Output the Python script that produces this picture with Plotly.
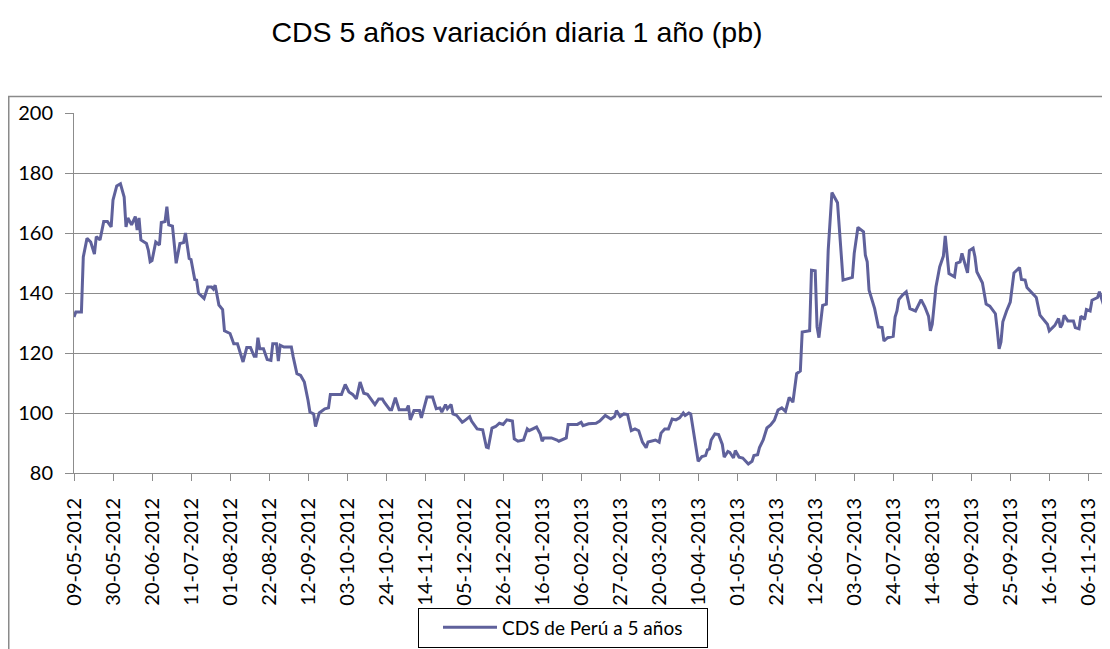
import plotly.graph_objects as go

title_text = "CDS 5 años variación diaria 1 año (pb)"
series_name = "CDS de Perú a 5 años"

dates = [
    "2012-05-09", "2012-05-10", "2012-05-13", "2012-05-14", "2012-05-16", "2012-05-18", "2012-05-20",
    "2012-05-21", "2012-05-23", "2012-05-25", "2012-05-27", "2012-05-29", "2012-05-30",
    "2012-06-01", "2012-06-03", "2012-06-05", "2012-06-06", "2012-06-07", "2012-06-09", "2012-06-11",
    "2012-06-12", "2012-06-13", "2012-06-14", "2012-06-17", "2012-06-18", "2012-06-19", "2012-06-20",
    "2012-06-22", "2012-06-24", "2012-06-25", "2012-06-27", "2012-06-28", "2012-06-29",
    "2012-07-01", "2012-07-03", "2012-07-05", "2012-07-07", "2012-07-08", "2012-07-10", "2012-07-11",
    "2012-07-13", "2012-07-14", "2012-07-15", "2012-07-18", "2012-07-20", "2012-07-22", "2012-07-23",
    "2012-07-24", "2012-07-26", "2012-07-28", "2012-07-29",
    "2012-08-01", "2012-08-03", "2012-08-05", "2012-08-08", "2012-08-10", "2012-08-12", "2012-08-14",
    "2012-08-15", "2012-08-16", "2012-08-17", "2012-08-19", "2012-08-21", "2012-08-23", "2012-08-24",
    "2012-08-26", "2012-08-27", "2012-08-28", "2012-08-30",
    "2012-09-03", "2012-09-04", "2012-09-06", "2012-09-08", "2012-09-10", "2012-09-12", "2012-09-13",
    "2012-09-15", "2012-09-16", "2012-09-18", "2012-09-21", "2012-09-23", "2012-09-24", "2012-09-30",
    "2012-10-02", "2012-10-04", "2012-10-06", "2012-10-08", "2012-10-10", "2012-10-12", "2012-10-14",
    "2012-10-18", "2012-10-20", "2012-10-22", "2012-10-23", "2012-10-26", "2012-10-27", "2012-10-29",
    "2012-10-31",
    "2012-11-04", "2012-11-05", "2012-11-06", "2012-11-08", "2012-11-11", "2012-11-12", "2012-11-15",
    "2012-11-18", "2012-11-20", "2012-11-22", "2012-11-23", "2012-11-25", "2012-11-26", "2012-11-28",
    "2012-11-29",
    "2012-12-01", "2012-12-04", "2012-12-05", "2012-12-08", "2012-12-09", "2012-12-12", "2012-12-15",
    "2012-12-17", "2012-12-18", "2012-12-20", "2012-12-22", "2012-12-24", "2012-12-26", "2012-12-28",
    "2012-12-31",
    "2013-01-01", "2013-01-03", "2013-01-06", "2013-01-08", "2013-01-09", "2013-01-11", "2013-01-13",
    "2013-01-15", "2013-01-16", "2013-01-17", "2013-01-21", "2013-01-24", "2013-01-25", "2013-01-29",
    "2013-01-30",
    "2013-02-04", "2013-02-06", "2013-02-07", "2013-02-10", "2013-02-14", "2013-02-16", "2013-02-19",
    "2013-02-22", "2013-02-24", "2013-02-25", "2013-02-27",
    "2013-03-01", "2013-03-03", "2013-03-05", "2013-03-07", "2013-03-09", "2013-03-11", "2013-03-13",
    "2013-03-14", "2013-03-16", "2013-03-18", "2013-03-20", "2013-03-21", "2013-03-23", "2013-03-25",
    "2013-03-27", "2013-03-29", "2013-03-31",
    "2013-04-02", "2013-04-03", "2013-04-05", "2013-04-06", "2013-04-10", "2013-04-12", "2013-04-14",
    "2013-04-15", "2013-04-16", "2013-04-17", "2013-04-19", "2013-04-21", "2013-04-23", "2013-04-24",
    "2013-04-26", "2013-04-27", "2013-04-29", "2013-04-30",
    "2013-05-02", "2013-05-04", "2013-05-07", "2013-05-09", "2013-05-10", "2013-05-12", "2013-05-13",
    "2013-05-15", "2013-05-17", "2013-05-19", "2013-05-21", "2013-05-23", "2013-05-25", "2013-05-27",
    "2013-05-29", "2013-05-31",
    "2013-06-01", "2013-06-02", "2013-06-04", "2013-06-05", "2013-06-09", "2013-06-10", "2013-06-12",
    "2013-06-13", "2013-06-14", "2013-06-16", "2013-06-18", "2013-06-19", "2013-06-21", "2013-06-24",
    "2013-06-27", "2013-06-30",
    "2013-07-02", "2013-07-03", "2013-07-05", "2013-07-08", "2013-07-09", "2013-07-10", "2013-07-11",
    "2013-07-14", "2013-07-16", "2013-07-18", "2013-07-19", "2013-07-21", "2013-07-24", "2013-07-25",
    "2013-07-26", "2013-07-27", "2013-07-29", "2013-07-31",
    "2013-08-02", "2013-08-05", "2013-08-08", "2013-08-10", "2013-08-12", "2013-08-13", "2013-08-14",
    "2013-08-16", "2013-08-18", "2013-08-20", "2013-08-21", "2013-08-23", "2013-08-26", "2013-08-27",
    "2013-08-29", "2013-08-30",
    "2013-09-01", "2013-09-02", "2013-09-03", "2013-09-05", "2013-09-06", "2013-09-07", "2013-09-10",
    "2013-09-12", "2013-09-14", "2013-09-17", "2013-09-18", "2013-09-19", "2013-09-20", "2013-09-21",
    "2013-09-23", "2013-09-25", "2013-09-27", "2013-09-30",
    "2013-10-01", "2013-10-03", "2013-10-04", "2013-10-06", "2013-10-08", "2013-10-09", "2013-10-11",
    "2013-10-13", "2013-10-15", "2013-10-16", "2013-10-19", "2013-10-21", "2013-10-22", "2013-10-23",
    "2013-10-24", "2013-10-26", "2013-10-29", "2013-10-30",
    "2013-11-01", "2013-11-02", "2013-11-04", "2013-11-05", "2013-11-07", "2013-11-08", "2013-11-11",
    "2013-11-12", "2013-11-13", "2013-11-15",
]

cds_values = [
    132.0, 133.7, 133.7, 152.0, 158.2, 157.0, 153.0,
    158.8, 157.7, 163.8, 163.8, 162.0, 171.0,
    175.7, 176.4, 172.0, 162.0, 165.0, 162.7, 165.5,
    161.0, 165.0, 157.7, 156.5, 154.3, 150.4, 150.8,
    157.0, 156.0, 163.5, 163.8, 168.8, 162.7,
    162.3, 149.9, 156.5, 156.8, 160.0, 151.5, 151.2,
    144.5, 144.3, 140.0, 138.2, 142.0, 142.0, 141.3,
    142.6, 136.0, 134.5, 127.4,
    126.5, 123.1, 123.1, 117.0, 121.8, 121.8, 118.9,
    118.9, 125.1, 121.4, 121.4, 117.8, 117.5, 123.1,
    123.1, 117.3, 122.6, 122.0,
    122.0, 118.7, 113.1, 112.5, 110.3, 104.2, 100.3,
    99.7, 95.5, 100.0, 101.4, 101.7, 106.2, 106.2,
    109.5, 107.0, 106.2, 104.7, 110.3, 106.6, 106.2,
    102.8, 104.7, 104.7, 103.6, 101.1, 101.1, 105.1,
    101.1,
    101.1, 102.5, 97.7, 100.8, 100.8, 98.4, 105.3,
    105.3, 101.4, 101.7, 100.3, 102.8, 101.4, 102.8,
    99.7,
    99.2, 96.9, 97.3, 98.8, 97.3, 94.7, 94.4,
    88.6, 88.4, 95.0, 95.5, 96.6, 96.2, 97.7,
    97.3,
    91.4, 90.6, 91.0, 94.7, 94.1, 94.7, 95.3,
    93.0, 90.6, 91.7, 91.7, 91.0, 90.6, 91.7,
    96.2,
    96.2, 96.9, 95.8, 96.4, 96.6, 97.3, 99.2,
    98.0, 98.8, 100.8, 98.8,
    99.7, 99.5, 94.1, 94.7, 94.1, 90.3, 88.4,
    90.3, 90.6, 91.0, 90.3, 93.3, 94.7, 94.7,
    98.0, 97.7, 98.4,
    100.0, 99.2, 100.0, 99.7, 83.9, 85.5, 85.8,
    87.7, 88.0, 91.0, 93.0, 92.8, 89.5, 85.3,
    87.2, 86.9, 85.0, 87.5,
    85.3, 85.0, 83.0, 83.9, 85.8, 86.1, 88.5,
    91.0, 95.0, 96.0, 97.6, 101.0, 101.7, 100.5,
    105.2, 103.6,
    109.2, 113.1, 114.0, 127.0, 127.4, 147.6, 147.4,
    128.7, 125.1, 135.9, 136.3, 154.3, 173.5, 170.1,
    144.3, 144.8,
    145.2, 153.2, 161.9, 160.4, 152.6, 150.4, 140.9,
    134.8, 128.7, 128.5, 124.0, 125.1, 125.6, 132.0,
    134.0, 137.8, 139.3, 140.4,
    134.8, 134.0, 137.8, 135.4, 132.3, 127.4, 129.6,
    142.0, 148.7, 152.3, 159.0, 146.5, 145.4, 149.9,
    150.4, 153.2,
    148.2, 146.7, 154.1, 154.9, 152.1, 147.1, 143.4,
    136.3, 135.6, 133.1, 127.6, 121.4, 123.7, 130.4,
    134.0, 137.0, 146.7, 148.5,
    144.5, 144.3, 141.8, 140.4, 138.9, 138.5, 132.6,
    130.9, 129.6, 127.4, 129.2, 131.5, 128.5, 129.6,
    132.6, 130.7, 130.7, 128.5,
    128.1, 132.3, 131.2, 134.5, 134.0, 137.6, 138.5,
    140.4, 138.2, 134.5,
]

y_ticks = [80, 100, 120, 140, 160, 180, 200]
x_first_tick = "2012-05-09"
x_range = ["2012-05-09", "2013-11-15"]
tick_step_days = 21

line_color = "#5f619b"
grid_color = "#8c8c8c"
tick_font = dict(family="Lato, Carlito, sans-serif", size=20, color="#000000")

fig = go.Figure()
fig.add_trace(go.Scatter(
    x=dates, y=cds_values, mode="lines", name=series_name,
    line=dict(color=line_color, width=3),
    showlegend=True,
))

# page body adds an 8px offset; figure coordinates = screen coordinates - 8
OFF = 8
W, H = 1110 - OFF, 649 - OFF
plot_left, plot_right, plot_top, plot_bottom = 74 - OFF, 1105 - OFF, 113 - OFF, 473 - OFF
ml, mr, mt, mb = plot_left, W - plot_right, plot_top, H - plot_bottom
pw, ph = plot_right - plot_left, plot_bottom - plot_top

def px_to_paper_x(px):
    return (px - OFF - ml) / pw

def py_to_paper_y(py):
    return (plot_bottom - (py - OFF)) / ph

fig.update_layout(
    width=W, height=H,
    margin=dict(l=ml, r=mr, t=mt, b=mb, autoexpand=False),
    paper_bgcolor="white", plot_bgcolor="white",
    title=dict(text=title_text, x=(517 - OFF) / W, xanchor="center",
               y=1 - (32 - OFF) / H, yanchor="middle",
               font=dict(family="Liberation Sans, Arial, sans-serif", size=28.5, color="#000000")),
    showlegend=True,
    legend=dict(
        orientation="h", x=px_to_paper_x(563), xanchor="center",
        y=py_to_paper_y(627.5), yanchor="middle",
        bordercolor="#000000", borderwidth=1, bgcolor="white",
        font=dict(family="Lato, Carlito, sans-serif", size=19, color="#000000"),
        itemwidth=54, entrywidth=200, indentation=19,
    ),
    xaxis=dict(
        type="date", range=x_range, tick0=x_first_tick, dtick=tick_step_days * 86400000,
        tickformat="%d-%m-%Y", tickangle=-90, tickfont=tick_font, ticklabelstandoff=9,
        showgrid=False, showline=True, linecolor=grid_color, linewidth=1,
        ticks="outside", ticklen=7, tickcolor=grid_color, zeroline=False,
        automargin=False,
    ),
    yaxis=dict(
        range=[80, 200], tickvals=y_ticks, tickfont=tick_font, ticklabelstandoff=8,
        showgrid=True, gridcolor=grid_color, gridwidth=1,
        showline=True, linecolor=grid_color, linewidth=1,
        ticks="outside", ticklen=8, tickcolor=grid_color, zeroline=False,
        automargin=False,
    ),
    shapes=[dict(
        type="rect", xref="paper", yref="paper",
        x0=(0.75 - ml) / pw, x1=px_to_paper_x(1125),
        y0=py_to_paper_y(665), y1=py_to_paper_y(96.5),
        line=dict(color="#8a8a8a", width=1.5), fillcolor="rgba(0,0,0,0)", layer="below",
    )],
)

fig.write_html("out.html")
